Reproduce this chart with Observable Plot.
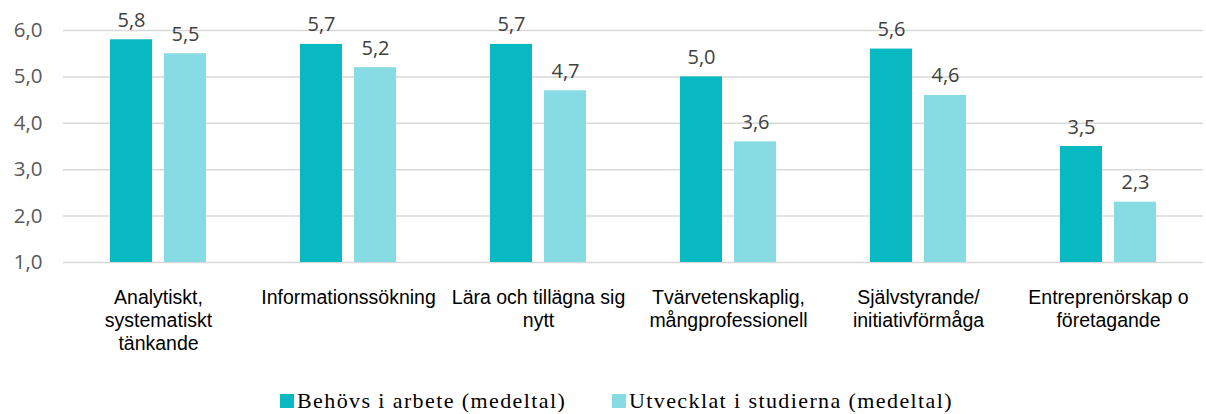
<!DOCTYPE html>
<html>
<head>
<meta charset="utf-8">
<script src="https://cdn.jsdelivr.net/npm/d3@7"></script>
<script src="https://cdn.jsdelivr.net/npm/@observablehq/plot@0.6"></script>
<style>
  body { margin: 0; background: #fff; }
  #legend { position: relative; height: 34px; font-family: "Liberation Serif", "DejaVu Serif", serif; font-size: 22px; letter-spacing: 1.4px; color: #000; }
  #legend span.item { position: absolute; top: 8px; display: flex; align-items: center; white-space: nowrap; }
  #legend span.sw { display: inline-block; width: 14px; height: 14px; margin-right: 3px; }
</style>
</head>
<body>
<div id="chart"></div>
<script>
const categories = ["Analytiskt, systematiskt tänkande", "Informationssökning", "Lära och tillägna sig nytt", "Tvärvetenskaplig, mångprofessionell", "Självstyrande/ initiativförmåga", "Entreprenörskap o företagande"];
const categoryLabels = ["Analytiskt,\nsystematiskt\ntänkande", "Informationssökning", "Lära och tillägna sig\nnytt", "Tvärvetenskaplig,\nmångprofessionell", "Självstyrande/\ninitiativförmåga", "Entreprenörskap o\nföretagande"];
const series = ["Behövs i arbete (medeltal)", "Utvecklat i studierna (medeltal)"];
const behovs = [5.8, 5.7, 5.7, 5.0, 5.6, 3.5];
const utvecklat = [5.5, 5.2, 4.7, 3.6, 4.6, 2.3];
const yTicks = [1, 2, 3, 4, 5, 6];
const colors = ["#08B9C1", "#87DCE3"];

const data = [];
categories.forEach((c, i) => {
  data.push({cat: c, series: series[0], value: behovs[i]});
  data.push({cat: c, series: series[1], value: utvecklat[i]});
});
const fmt = v => v.toFixed(1).replace(".", ",");
const labelOf = new Map(categories.map((c, i) => [c, categoryLabels[i]]));

const chart = Plot.plot({
  width: 1206,
  height: 380,
  marginLeft: 63,
  marginRight: 3,
  marginTop: 30,
  marginBottom: 118,
  style: {fontFamily: "'Open Sans', sans-serif"},
  fx: {domain: categories, padding: 0, label: null},
  x: {domain: series, paddingInner: 0.22, paddingOuter: 0.84, axis: null},
  y: {domain: [1, 6], label: null},
  color: {domain: series, range: colors},
  marks: [
    Plot.ruleY(yTicks, {stroke: "#d9d9d9", strokeWidth: 1.5}),
    Plot.barY(data, {fx: "cat", x: "series", y1: 1, y2: "value", fill: "series"}),
    Plot.text(data, {fx: "cat", x: "series", y: "value", text: d => fmt(d.value), lineAnchor: "bottom", dy: -13, fontSize: 20, fill: "#404040"}),
    Plot.axisY({ticks: yTicks, tickFormat: fmt, tickSize: 0, tickPadding: 21, fontSize: 20.5, fill: "#595959", label: null}),
    Plot.axisFx({anchor: "bottom", tickFormat: c => labelOf.get(c), tickSize: 0, tickPadding: 25, fontSize: 19.5, fontFamily: "'Liberation Sans', Arial, sans-serif", fill: "#000", lineHeight: 1.18, label: null})
  ]
});
document.getElementById("chart").appendChild(chart);

const legend = document.createElement("div");
legend.id = "legend";
const legendLeft = [280, 612];
series.forEach((s, i) => {
  const item = document.createElement("span");
  item.className = "item";
  item.style.left = legendLeft[i] + "px";
  const sw = document.createElement("span");
  sw.className = "sw";
  sw.style.background = colors[i];
  item.appendChild(sw);
  item.appendChild(document.createTextNode(s));
  legend.appendChild(item);
});
document.body.appendChild(legend);
</script>
</body>
</html>
